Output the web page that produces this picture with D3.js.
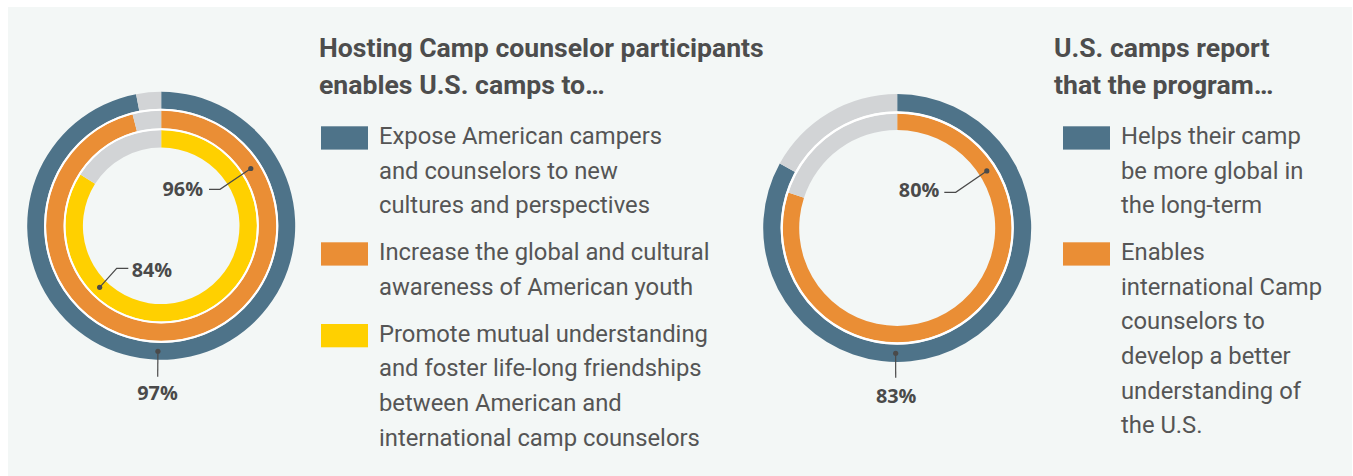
<!DOCTYPE html>
<html>
<head>
<meta charset="utf-8">
<script src="https://cdn.jsdelivr.net/npm/d3@7"></script>
<style>
  body { margin: 0; background: #fff; }
  svg { display: block; }
</style>
</head>
<body>
<div id="chart"></div>
<script>
// Data
var leftTitle = ["Hosting Camp counselor participants", "enables U.S. camps to\u2026"];
var leftCategories = [
  ["Expose American campers", "and counselors to new", "cultures and perspectives"],
  ["Increase the global and cultural", "awareness of American youth"],
  ["Promote mutual understanding", "and foster life-long friendships", "between American and", "international camp counselors"]
];
var leftValues = [97, 96, 84];

var rightTitle = ["U.S. camps report", "that the program\u2026"];
var rightCategories = [
  ["Helps their camp", "be more global in", "the long-term"],
  ["Enables", "international Camp", "counselors to", "develop a better", "understanding of", "the U.S."]
];
var rightValues = [83, 80];

var colors = ["#4e7389", "#ea8e35", "#ffd000"];
var grey = "#d2d4d6";
var textColor = "#555";

var W = 1353, H = 476;

var svg = d3.select("#chart").append("svg")
    .attr("width", W)
    .attr("height", H);

// light panel
svg.append("rect")
    .attr("x", 8).attr("y", 7)
    .attr("width", W - 9).attr("height", H - 7)
    .attr("fill", "#f3f7f6");

// ring bands [inner, outer]
var leftRings = [[117, 134], [97.5, 115.2], [78.3, 95.8]];
var rightRings = [[116.5, 134], [98, 114.5]];

var pie = d3.pie().sort(null).value(function(d) { return d; });

function drawDonut(cx, cy, values, rings, labels) {
  var g = svg.append("g").attr("transform", "translate(" + cx + "," + cy + ")");

  values.forEach(function(v, i) {
    var arc = d3.arc().innerRadius(rings[i][0]).outerRadius(rings[i][1]);
    g.selectAll(null)
        .data(pie([v, 100 - v]))
        .enter().append("path")
        .attr("d", arc)
        .attr("fill", function(d, j) { return j === 0 ? colors[i] : grey; });
  });

  // white separators between rings
  for (var i = 1; i < rings.length; i++) {
    g.append("circle")
        .attr("r", (rings[i - 1][0] + rings[i][1]) / 2)
        .attr("fill", "none")
        .attr("stroke", "#fff")
        .attr("stroke-width", rings[i - 1][0] - rings[i][1] + 0.3);
  }

  // leader lines + value labels
  labels.forEach(function(l) {
    var r = (rings[l.ring][0] + rings[l.ring][1]) / 2;
    var a = l.angle * Math.PI / 180;
    var p = [r * Math.sin(a), -r * Math.cos(a)];
    var pts = [p].concat(l.path);
    g.append("path")
        .attr("d", d3.line()(pts))
        .attr("fill", "none")
        .attr("stroke", "#4a4a4a")
        .attr("stroke-width", 1.2);
    g.append("circle")
        .attr("cx", p[0]).attr("cy", p[1])
        .attr("r", 2.6)
        .attr("fill", "#4a4a4a");
    g.append("text")
        .attr("x", l.text[0]).attr("y", l.text[1])
        .attr("text-anchor", l.anchor)
        .style("font-family", "'Open Sans', sans-serif")
        .style("font-weight", 700)
        .style("font-size", "19.8px")
        .attr("fill", "#4a4a4a")
        .text(values[l.ring] + "%");
  });
}

drawDonut(161.2, 225.8, leftValues, leftRings, [
  { ring: 1, angle: 57.4, path: [[58.8, -36.5], [47.8, -36.5]], text: [41.8, -30.3], anchor: "end" },
  { ring: 2, angle: 225, path: [[-44.5, 42.5], [-32.9, 42.5]], text: [-29.5, 50.9], anchor: "start" },
  { ring: 0, angle: 181.5, path: [[-3.5, 150.9]], text: [-3.7, 174.2], anchor: "middle" }
]);

drawDonut(897.2, 228, rightValues, rightRings, [
  { ring: 1, angle: 57.5, path: [[58.5, -35.7], [47.1, -35.7]], text: [42.1, -30.7], anchor: "end" },
  { ring: 0, angle: 180.7, path: [[-1.5, 149.7]], text: [-1, 175.3], anchor: "middle" }
]);

function drawLegend(x, swatchX, title, cats, starts) {
  var g = svg.append("g");
  g.selectAll(null)
      .data(title)
      .enter().append("text")
      .attr("x", x)
      .attr("y", function(d, i) { return 57 + i * 37; })
      .style("font-family", "Roboto, sans-serif")
      .style("font-weight", 700)
      .style("font-size", "26.6px")
      .attr("fill", "#4d4d4d")
      .text(function(d) { return d; });

  cats.forEach(function(lines, i) {
    g.append("rect")
        .attr("x", swatchX)
        .attr("y", starts[i] - 17.5)
        .attr("width", 47)
        .attr("height", 23.3)
        .attr("fill", colors[i]);
    g.selectAll(null)
        .data(lines)
        .enter().append("text")
        .attr("x", swatchX + 58)
        .attr("y", function(d, j) { return starts[i] + j * 34.7; })
        .style("font-family", "Roboto, sans-serif")
        .style("font-size", "23.8px")
        .attr("fill", textColor)
        .text(function(d) { return d; });
  });
}

drawLegend(319, 321, leftTitle, leftCategories, [143.8, 259.8, 341.5]);
drawLegend(1054, 1063, rightTitle, rightCategories, [143.8, 259.8]);
</script>
</body>
</html>
